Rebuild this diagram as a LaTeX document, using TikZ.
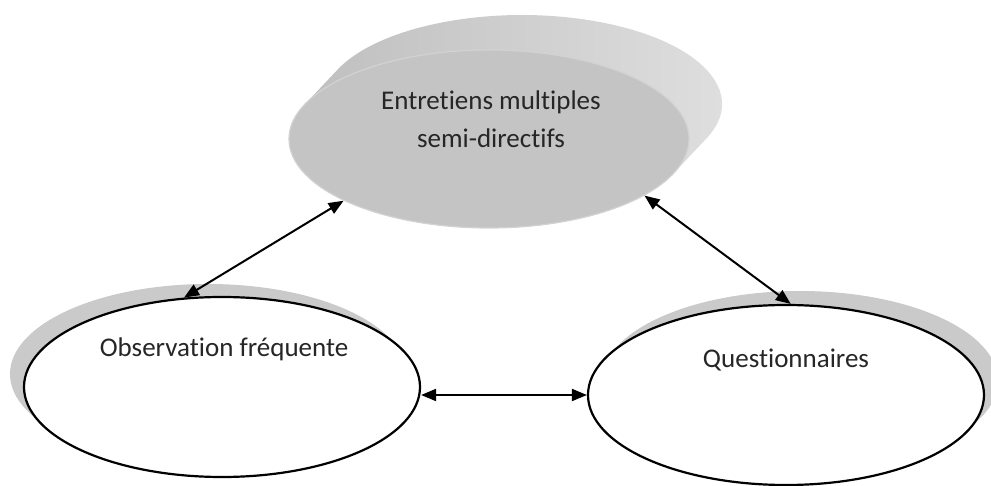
\documentclass[tikz,border=0pt]{standalone}
\usepackage{fontspec}
\setmainfont{Carlito}[Ligatures=NoCommon]
\usetikzlibrary{shapes.geometric,shadows,arrows.meta}

\definecolor{facegray}{HTML}{C4C4C4}
\definecolor{rimgray}{HTML}{D2D2D2}
\definecolor{sideleft}{HTML}{BCBCBC}
\definecolor{sidedark}{HTML}{A4A4A4}
\definecolor{sidelight}{HTML}{E0E0E0}
\definecolor{shadowgray}{HTML}{CACACA}
\definecolor{textgray}{HTML}{262626}

\begin{document}
\begin{tikzpicture}[x=1pt, y=1pt,
  bubble/.style={ellipse, draw=black, line width=2.2pt, fill=white, inner sep=0pt,
    minimum width=396pt, minimum height=180pt},
  biarrow/.style={{Triangle[length=15pt,width=12pt]}-{Triangle[length=15pt,width=12pt]}, line width=2pt},
  caption/.style={font=\fontsize{27}{38}\selectfont, text=textgray, align=center, inner sep=0pt}]

\useasboundingbox (0,0) rectangle (991,485);

% Top disc: the extruded side first, then its face
\shade[left color=sideleft, middle color=sidedark, right color=sidelight]
  (304.6,380.4) -- (337.6,415.4)
  arc[start angle=157.24, delta angle=-180, x radius=200, y radius=89]
  -- (673.4,311.6)
  arc[start angle=-22.76, delta angle=-180, x radius=200, y radius=89] -- cycle;
\node[ellipse, fill=facegray, draw=rimgray, line width=1.2pt, inner sep=0pt,
  minimum width=400pt, minimum height=178pt] (ent) at (489,346) {};
\node[caption] (enttext) at (491,366) {Entretiens multiples\\semi-directifs};

% Bottom discs with their shadows
\node[bubble, drop shadow={shadow xshift=-14pt, shadow yshift=13pt, fill=shadowgray, opacity=1}]
  (obs) at (222,98) {};
\node[caption, anchor=base] (obstext) at (224,128) {Observation fréquente};

\node[bubble, drop shadow={shadow xshift=14pt, shadow yshift=14pt, fill=shadowgray, opacity=1}]
  (quest) at (786,90) {};
\node[caption, anchor=base] (questtext) at (786,117) {Questionnaires};

% Links
\draw[biarrow] (ent.203) -- (obs.113);
\draw[biarrow] (ent.-20) -- (quest.87);
\draw[biarrow] (quest.west -| obs.east) -- (quest.west);
\end{tikzpicture}
\end{document}
